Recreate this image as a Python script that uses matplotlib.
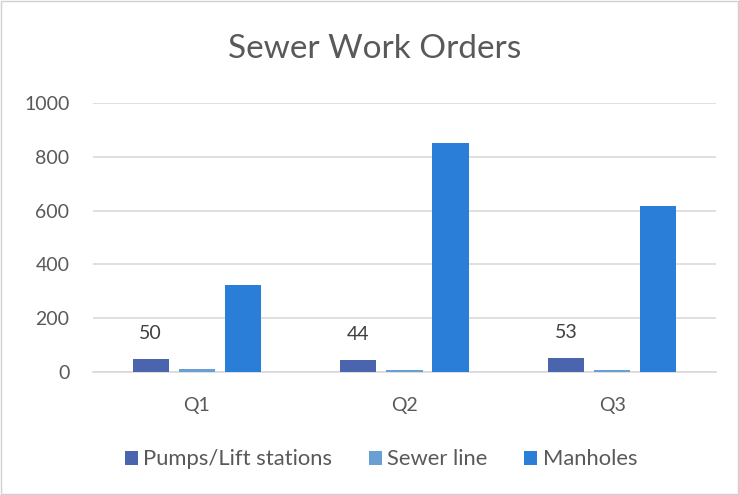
import numpy as np
import matplotlib.pyplot as plt

quarters = ["Q1", "Q2", "Q3"]
pumps = [50, 44, 53]
sewer_line = [12, 6, 6]
manholes = [323, 851, 616]

plt.rcParams['font.family'] = ['Lato', 'DejaVu Sans']
txt = '#595959'

fig = plt.figure(figsize=(7.39, 4.95), dpi=100)
ax = fig.add_axes([0.1258, 0.2485, 0.8430, 0.5434])

x = np.arange(len(quarters))
w = 0.174
off = 0.222
b1 = ax.bar(x - off, pumps, w, color='#4A65AE', label='Pumps/Lift stations', zorder=3)
ax.bar(x, sewer_line, w, color='#6A9FD3', label='Sewer line', zorder=3)
ax.bar(x + off, manholes, w, color='#2A7ED8', label='Manholes', zorder=3)

# data labels only on the pumps series
for rect, v in zip(b1, pumps):
    ax.annotate(str(v), (rect.get_x() + rect.get_width() / 2, v), xytext=(0, 12),
                textcoords='offset points', ha='center', va='bottom', fontsize=14, color='#404040')

ax.set_ylim(0, 1000)
ax.set_xlim(-0.5, 2.5)
ax.set_yticks(range(0, 1001, 200))
ax.set_xticks(x)
ax.set_xticklabels(quarters)
ax.grid(axis='y', color='#D9D9D9', linewidth=1.2, zorder=0)
for s in ['top', 'right', 'left']:
    ax.spines[s].set_visible(False)
ax.spines['bottom'].set_color('#D9D9D9')
ax.spines['bottom'].set_linewidth(1.2)
ax.tick_params(axis='both', length=0, labelsize=14, colors=txt)
ax.tick_params(axis='x', pad=18)
ax.tick_params(axis='y', pad=17)

fig.text(0.507, 0.901, "Sewer Work Orders", ha='center', va='center', fontsize=24, color=txt)
fig.legend(loc='center', bbox_to_anchor=(0.5155, 0.072), ncol=3, frameon=False,
           fontsize=15.8, labelcolor=txt, handlelength=0.6, handleheight=0.6,
           handletextpad=0.25, columnspacing=1.65)

fig.patches.append(plt.Rectangle((0.002, 0.002), 0.996, 0.996, transform=fig.transFigure,
                                 fill=False, edgecolor='#D0D0D0', linewidth=1))
fig.savefig('out.png', dpi=100)
